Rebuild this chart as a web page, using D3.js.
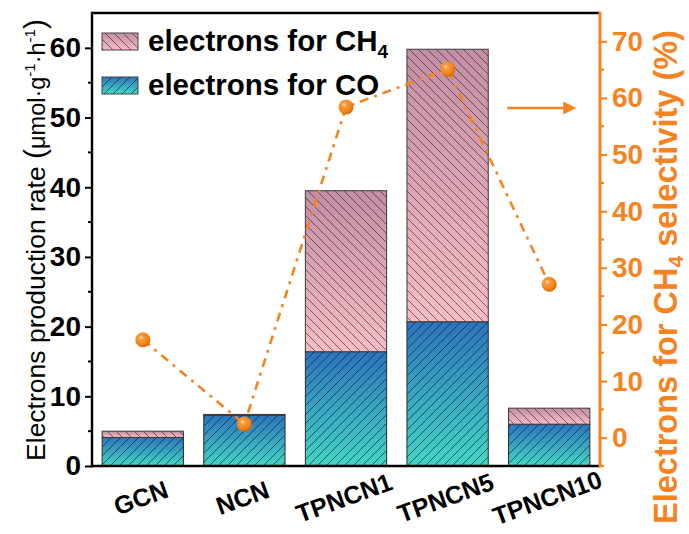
<!DOCTYPE html>
<html>
<head>
<meta charset="utf-8">
<script src="https://cdn.jsdelivr.net/npm/d3@7"></script>
<style>
  html, body { margin: 0; padding: 0; background: #fff; }
  svg { display: block; }
</style>
</head>
<body>
<svg id="chart" width="689" height="534"></svg>
<script>
// ---- data ----
const categories = ["GCN", "NCN", "TPNCN1", "TPNCN5", "TPNCN10"];
const coValues = [4.1, 7.25, 16.4, 20.7, 6.0];
const ch4Values = [0.9, 0.15, 23.1, 39.1, 2.3];
const selectivity = [17.3, 2.4, 58.4, 65.1, 27.1];
const leftTicks = [0, 10, 20, 30, 40, 50, 60];
const leftMinor = [5, 15, 25, 35, 45, 55];
const rightTicks = [0, 10, 20, 30, 40, 50, 60, 70];
const rightMinor = [-5, 5, 15, 25, 35, 45, 55, 65];
const legendLabels = ["electrons for CH", "electrons for CO"];

// ---- layout ----
const W = 689, H = 534;
const L = 92, R = 600, T = 13, B = 466;
const ORANGE = "#f5831f";
const svg = d3.select("#chart");
const FONT = "'Liberation Sans', Arial, sans-serif";

const x = d3.scaleBand().domain(categories).range([L, R]).paddingInner(0.2).paddingOuter(0.1);
const yL = d3.scaleLinear().domain([0, 65]).range([B, T]);
const yR = d3.scaleLinear().domain([-5, 75]).range([B, T]);

// ---- defs: gradients & hatches ----
const defs = svg.append("defs");
const gPink = defs.append("linearGradient").attr("id", "gPink").attr("x1", 0).attr("y1", 0).attr("x2", 0).attr("y2", 1);
gPink.append("stop").attr("offset", "0%").attr("stop-color", "#c28ea5");
gPink.append("stop").attr("offset", "100%").attr("stop-color", "#f8bcc4");
const gBlue = defs.append("linearGradient").attr("id", "gBlue").attr("x1", 0).attr("y1", 0).attr("x2", 0).attr("y2", 1);
gBlue.append("stop").attr("offset", "0%").attr("stop-color", "#2c74bd");
gBlue.append("stop").attr("offset", "100%").attr("stop-color", "#44d6c6");

const HS = 9;
const hBack = defs.append("pattern").attr("id", "hBack").attr("patternUnits", "userSpaceOnUse")
  .attr("width", HS).attr("height", HS);
hBack.append("path").attr("d", `M-2,-2 L${HS + 2},${HS + 2} M-2,${HS - 2} L2,${HS + 2} M${HS - 2},-2 L${HS + 2},2`)
  .attr("stroke", "#222").attr("stroke-width", 0.8).attr("stroke-opacity", 0.75);
const hFwd = defs.append("pattern").attr("id", "hFwd").attr("patternUnits", "userSpaceOnUse")
  .attr("width", HS).attr("height", HS);
hFwd.append("path").attr("d", `M-2,${HS + 2} L${HS + 2},-2 M-2,2 L2,-2 M${HS - 2},${HS + 2} L${HS + 2},${HS - 2}`)
  .attr("stroke", "#111").attr("stroke-width", 0.8).attr("stroke-opacity", 0.75);

const ball = defs.append("radialGradient").attr("id", "ball").attr("cx", "38%").attr("cy", "35%").attr("r", "65%");
ball.append("stop").attr("offset", "0%").attr("stop-color", "#ffe2c2");
ball.append("stop").attr("offset", "25%").attr("stop-color", "#fb9a3c");
ball.append("stop").attr("offset", "80%").attr("stop-color", "#f07f10");
ball.append("stop").attr("offset", "100%").attr("stop-color", "#d56800");

defs.append("marker").attr("id", "arrowHead").attr("viewBox", "0 0 10 10").attr("refX", 2).attr("refY", 5)
  .attr("markerWidth", 6).attr("markerHeight", 5).attr("orient", "auto").attr("markerUnits", "strokeWidth")
  .append("path").attr("d", "M0,0 L10,5 L0,10 Z").attr("fill", ORANGE);

// ---- bars ----
const barData = categories.map((c, i) => ({ c, co: coValues[i], ch4: ch4Values[i] }));
const bars = svg.append("g");
barData.forEach(d => {
  const bx = x(d.c), bw = x.bandwidth();
  const y0 = yL(0), y1 = yL(d.co), y2 = yL(d.co + d.ch4);
  bars.append("rect").attr("x", bx).attr("y", y1).attr("width", bw).attr("height", y0 - y1).attr("fill", "url(#gBlue)");
  bars.append("rect").attr("x", bx).attr("y", y1).attr("width", bw).attr("height", y0 - y1).attr("fill", "url(#hFwd)")
    .attr("stroke", "#2a2a2a").attr("stroke-width", 1);
  if (y1 - y2 > 0.5) {
    bars.append("rect").attr("x", bx).attr("y", y2).attr("width", bw).attr("height", y1 - y2).attr("fill", "url(#gPink)");
    bars.append("rect").attr("x", bx).attr("y", y2).attr("width", bw).attr("height", y1 - y2).attr("fill", "url(#hBack)")
      .attr("stroke", "#3a3a3a").attr("stroke-width", 1);
  }
});

// ---- selectivity line ----
const pts = categories.map((c, i) => [x(c) + x.bandwidth() / 2, yR(selectivity[i])]);
svg.append("path").attr("d", d3.line()(pts)).attr("fill", "none")
  .attr("stroke", ORANGE).attr("stroke-width", 2.6).attr("stroke-dasharray", "9,6,3,6");
svg.append("g").selectAll("circle").data(pts).join("circle")
  .attr("cx", d => d[0]).attr("cy", d => d[1]).attr("r", 7.5).attr("fill", "url(#ball)");

// ---- axes ----
const axL = svg.append("g").attr("transform", `translate(${L},0)`)
  .call(d3.axisLeft(yL).tickValues(leftTicks).tickSize(7).tickSizeOuter(0).tickPadding(4));
axL.select(".domain").remove();
axL.selectAll(".tick line").attr("stroke", "#000").attr("stroke-width", 2);
axL.selectAll(".tick text").attr("font-family", FONT).attr("font-weight", "bold").attr("font-size", 28).attr("fill", "#000");
svg.append("g").selectAll("line").data(leftMinor).join("line")
  .attr("x1", L - 4).attr("x2", L).attr("y1", d => yL(d)).attr("y2", d => yL(d)).attr("stroke", "#000").attr("stroke-width", 2);

const axR = svg.append("g").attr("transform", `translate(${R},0)`)
  .call(d3.axisRight(yR).tickValues(rightTicks).tickSize(7).tickSizeOuter(0).tickPadding(5));
axR.select(".domain").remove();
axR.selectAll(".tick line").attr("stroke", ORANGE).attr("stroke-width", 2.2);
axR.selectAll(".tick text").attr("font-family", FONT).attr("font-weight", "bold").attr("font-size", 28).attr("fill", ORANGE);
svg.append("g").selectAll("line").data(rightMinor).join("line")
  .attr("x1", R).attr("x2", R + 4).attr("y1", d => yR(d)).attr("y2", d => yR(d)).attr("stroke", ORANGE).attr("stroke-width", 2.2);

// frame
svg.append("line").attr("x1", L).attr("x2", R).attr("y1", T).attr("y2", T).attr("stroke", "#000").attr("stroke-width", 2.6);
svg.append("line").attr("x1", L).attr("x2", R).attr("y1", B).attr("y2", B).attr("stroke", "#000").attr("stroke-width", 2.6);
svg.append("line").attr("x1", L).attr("x2", L).attr("y1", T - 1.3).attr("y2", B + 1.3).attr("stroke", "#000").attr("stroke-width", 2.4);
svg.append("line").attr("x1", R).attr("x2", R).attr("y1", T - 1.3).attr("y2", B + 1.3).attr("stroke", ORANGE).attr("stroke-width", 3);

// x labels
svg.append("g").selectAll("text").data(categories).join("text")
  .attr("transform", d => `translate(${x(d) + x.bandwidth() / 2 + 1},${506}) rotate(-20)`)
  .attr("text-anchor", "middle").attr("font-family", FONT).attr("font-weight", "bold").attr("font-size", 25)
  .text(d => d);

// left title
const lt = svg.append("text").attr("transform", `translate(45,${240}) rotate(-90)`)
  .attr("text-anchor", "middle").attr("font-family", FONT).attr("font-size", 26.5).attr("fill", "#000");
lt.append("tspan").text("Electrons production rate ");
lt.append("tspan").text("(").attr("font-size", 30);
lt.append("tspan").text("μmol·g").attr("font-size", 23.5);
lt.append("tspan").text("-1").attr("font-size", 15).attr("dy", -10);
lt.append("tspan").text("·h").attr("font-size", 23.5).attr("dy", 10);
lt.append("tspan").text("-1").attr("font-size", 15).attr("dy", -10);
lt.append("tspan").text(")").attr("font-size", 30).attr("dy", 10);

// right title
const rt = svg.append("text").attr("transform", `translate(677,${277}) rotate(-90)`)
  .attr("text-anchor", "middle").attr("font-family", FONT).attr("font-weight", "bold").attr("font-size", 32.5).attr("fill", ORANGE);
rt.append("tspan").text("Electrons for CH");
rt.append("tspan").text("4").attr("font-size", 21).attr("dy", 6);
rt.append("tspan").text(" selectivity (%)").attr("dy", -6);

// arrow
svg.append("line").attr("x1", x("TPNCN5") + x.bandwidth() + 19).attr("x2", x("TPNCN10") + x.bandwidth() - 24)
  .attr("y1", 108).attr("y2", 108).attr("stroke", ORANGE).attr("stroke-width", 2.6).attr("marker-end", "url(#arrowHead)");

// legend
const legFills = [["url(#gPink)", "url(#hBack)"], ["url(#gBlue)", "url(#hFwd)"]];
legendLabels.forEach((lab, i) => {
  const gy = 33 + i * 44;
  svg.append("rect").attr("x", 102).attr("y", gy).attr("width", 36).attr("height", 17).attr("fill", legFills[i][0]);
  svg.append("rect").attr("x", 102).attr("y", gy).attr("width", 36).attr("height", 17).attr("fill", legFills[i][1])
    .attr("stroke", "#444").attr("stroke-width", 1);
  const t = svg.append("text").attr("x", 148).attr("y", gy + 18).attr("font-family", FONT).attr("font-weight", "bold")
    .attr("font-size", 29.5).attr("fill", "#000");
  t.append("tspan").text(lab);
  if (i === 0) t.append("tspan").text("4").attr("font-size", 19).attr("dy", 7);
});
</script>
</body>
</html>
